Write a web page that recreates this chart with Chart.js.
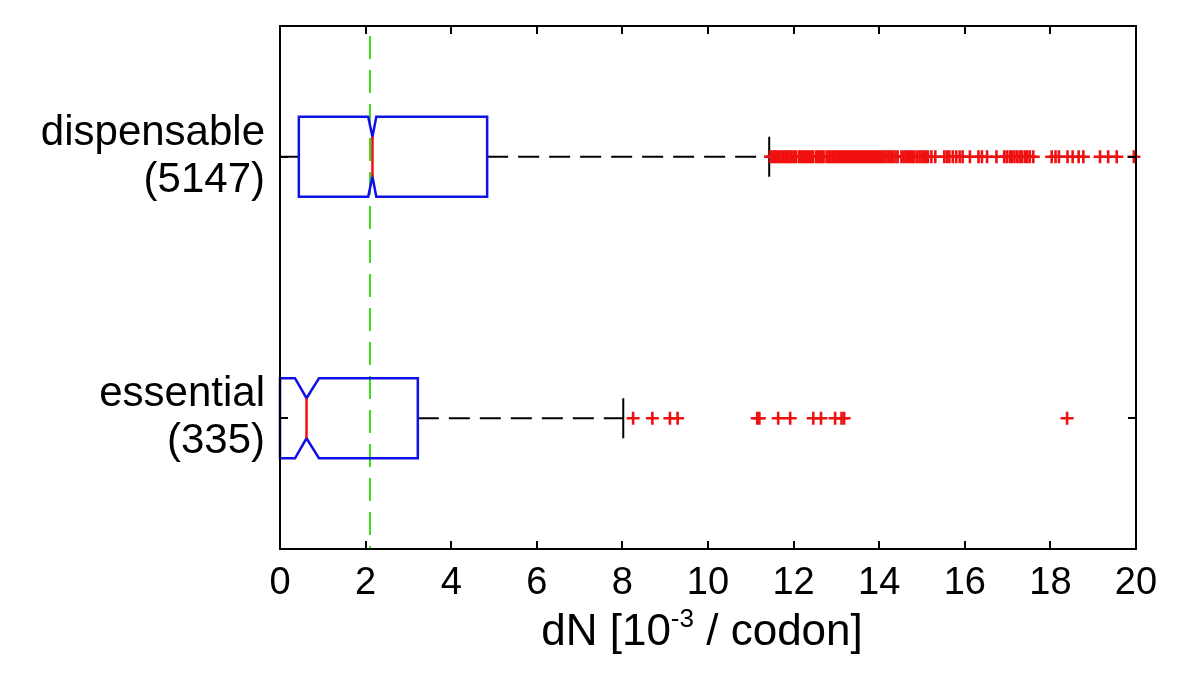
<!DOCTYPE html>
<html>
<head>
<meta charset="utf-8">
<title>dN: dispensable vs essential genes</title>
<script src="https://cdn.jsdelivr.net/npm/chart.js@4.4.1/dist/chart.umd.min.js"></script>
<style>
  html, body { margin: 0; padding: 0; background: #fff; }
  #wrap { width: 1200px; height: 677px; }
</style>
</head>
<body>
<div id="wrap"><canvas id="chart" width="1200" height="677"></canvas></div>
<script>
'use strict';

// groups, listed top to bottom
const groups = ['dispensable', 'essential'];
const groupCounts = [5147, 335];

// box statistics, dN in 10^-3 / codon
const lowerWhisker = [0.0, 0.0];
const q1 = [0.44, 0.0];
const notchLow = [2.06, 0.35];
const median = [2.16, 0.62];
const notchHigh = [2.25, 0.91];
const q3 = [4.84, 3.22];
const upperWhisker = [11.43, 8.02];

const outliersDispensable = [
  11.46, 11.50, 11.55, 11.58, 11.63, 11.67, 11.72, 11.76, 11.80, 11.85, 11.88, 11.93,
  11.97, 12.02, 12.06, 12.13, 12.17, 12.22, 12.27, 12.31, 12.36, 12.41, 12.45, 12.52,
  12.56, 12.61, 12.66, 12.70, 12.77, 12.82, 12.86, 12.91, 12.95, 13.00, 13.04, 13.09,
  13.13, 13.18, 13.22, 13.27, 13.32, 13.36, 13.41, 13.46, 13.50, 13.55, 13.60, 13.64,
  13.69, 13.74, 13.79, 13.83, 13.88, 13.93, 13.97, 14.02, 14.07, 14.12, 14.17, 14.22,
  14.27, 14.32, 14.38, 14.43, 14.52, 14.57, 14.62, 14.67, 14.72, 14.77, 14.82, 14.88,
  14.94, 14.99, 15.04, 15.09, 15.14, 15.22, 15.31, 15.52, 15.58, 15.64, 15.72, 15.80,
  15.88, 15.95, 16.12, 16.32, 16.40, 16.52, 16.74, 16.92, 16.98, 17.05, 17.10, 17.16,
  17.22, 17.28, 17.33, 17.40, 17.46, 17.52, 17.60, 18.03, 18.12, 18.20, 18.40, 18.52,
  18.66, 18.77, 19.16, 19.35, 19.55, 19.95
];
const outliersEssential = [
  8.25, 8.70, 9.11, 9.29, 11.15, 11.20, 11.64, 11.92, 12.46, 12.64, 12.97, 13.12, 13.18, 18.39
];

const referenceLine = 2.1;
const xTicks = [0, 2, 4, 6, 8, 10, 12, 14, 16, 18, 20];
const xTitleMain = 'dN [10';
const xTitleSup = '-3';
const xTitleEnd = ' / codon]';

const colors = { box: '#1010e8', median: '#f01010', whisker: '#000', outlier: '#f01010', ref: '#3ddc1c' };
const FONT = '"Liberation Sans", Arial, sans-serif';
const BOX_HALF = 0.153;   // half box height, in y units
const TICK_LEN = 8;

const yOf = i => groups.length - i;

const boxPlot = {
  id: 'boxPlot',
  beforeDatasetsDraw(chart) {
    const { ctx, chartArea: a, scales: { x, y } } = chart;
    ctx.save();

    // dashed reference line
    const gx = Math.round(x.getPixelForValue(referenceLine));
    ctx.strokeStyle = colors.ref;
    ctx.lineWidth = 2;
    ctx.setLineDash([23, 11]);
    ctx.lineDashOffset = -10;
    ctx.beginPath();
    ctx.moveTo(gx, a.top);
    ctx.lineTo(gx, a.bottom);
    ctx.stroke();

    groups.forEach((g, i) => {
      const px = v => x.getPixelForValue(v);
      const yc = y.getPixelForValue(yOf(i));
      const top = y.getPixelForValue(yOf(i) + BOX_HALF);
      const bot = y.getPixelForValue(yOf(i) - BOX_HALF);
      const nd = (bot - top) / 4;

      // whiskers
      ctx.strokeStyle = colors.whisker;
      ctx.lineWidth = 2;
      ctx.setLineDash([21, 10]);
      ctx.lineDashOffset = 0;
      ctx.beginPath();
      ctx.moveTo(px(q3[i]), yc); ctx.lineTo(px(upperWhisker[i]), yc);
      ctx.moveTo(px(q1[i]), yc); ctx.lineTo(px(lowerWhisker[i]), yc);
      ctx.stroke();
      ctx.setLineDash([]);
      ctx.beginPath();
      ctx.moveTo(px(upperWhisker[i]), yc - nd); ctx.lineTo(px(upperWhisker[i]), yc + nd);
      ctx.moveTo(px(lowerWhisker[i]), yc - nd); ctx.lineTo(px(lowerWhisker[i]), yc + nd);
      ctx.stroke();

      // notched box
      ctx.strokeStyle = colors.box;
      ctx.lineWidth = 2.5;
      ctx.lineJoin = 'miter';
      ctx.beginPath();
      ctx.moveTo(px(q1[i]), top);
      ctx.lineTo(px(notchLow[i]), top);
      ctx.lineTo(px(median[i]), top + nd);
      ctx.lineTo(px(notchHigh[i]), top);
      ctx.lineTo(px(q3[i]), top);
      ctx.lineTo(px(q3[i]), bot);
      ctx.lineTo(px(notchHigh[i]), bot);
      ctx.lineTo(px(median[i]), bot - nd);
      ctx.lineTo(px(notchLow[i]), bot);
      ctx.lineTo(px(q1[i]), bot);
      ctx.closePath();
      ctx.stroke();

      // median
      ctx.strokeStyle = colors.median;
      ctx.beginPath();
      ctx.moveTo(px(median[i]), top + nd);
      ctx.lineTo(px(median[i]), bot - nd);
      ctx.stroke();
    });
    ctx.restore();
  },
  afterDraw(chart) {
    const { ctx, chartArea: a, scales: { x, y } } = chart;
    ctx.save();
    ctx.strokeStyle = '#000';
    ctx.lineWidth = 2;
    ctx.setLineDash([]);
    ctx.strokeRect(a.left, a.top, a.right - a.left, a.bottom - a.top);

    // inward ticks, all four sides
    ctx.beginPath();
    xTicks.forEach(v => {
      const tx = Math.round(x.getPixelForValue(v));
      ctx.moveTo(tx, a.bottom); ctx.lineTo(tx, a.bottom - TICK_LEN);
      ctx.moveTo(tx, a.top); ctx.lineTo(tx, a.top + TICK_LEN);
    });
    groups.forEach((g, i) => {
      const ty = Math.round(y.getPixelForValue(yOf(i)));
      ctx.moveTo(a.left, ty); ctx.lineTo(a.left + TICK_LEN, ty);
      ctx.moveTo(a.right, ty); ctx.lineTo(a.right - TICK_LEN, ty);
    });
    ctx.stroke();

    // x title with superscript
    const big = '44px ' + FONT, small = '26px ' + FONT;
    ctx.fillStyle = '#000';
    ctx.textBaseline = 'alphabetic';
    ctx.textAlign = 'left';
    ctx.font = big;
    const w1 = ctx.measureText(xTitleMain).width;
    const w3 = ctx.measureText(xTitleEnd).width;
    ctx.font = small;
    const w2 = ctx.measureText(xTitleSup).width;
    const cx = (a.left + a.right) / 2 - 6;
    let tx = cx - (w1 + w2 + w3) / 2;
    const base = 645;
    ctx.font = big; ctx.fillText(xTitleMain, tx, base); tx += w1;
    ctx.font = small; ctx.fillText(xTitleSup, tx, base - 18); tx += w2;
    ctx.font = big; ctx.fillText(xTitleEnd, tx, base);
    ctx.restore();
  }
};

const outlierStyle = {
  pointStyle: 'cross',
  pointRadius: 6.5,
  pointHoverRadius: 6.5,
  borderColor: colors.outlier,
  backgroundColor: colors.outlier,
  pointBorderWidth: 2.6,
  showLine: false,
  clip: false
};

new Chart(document.getElementById('chart'), {
  type: 'scatter',
  data: {
    datasets: [
      Object.assign({ label: groups[0], data: outliersDispensable.map(v => ({ x: v, y: yOf(0) })) }, outlierStyle),
      Object.assign({ label: groups[1], data: outliersEssential.map(v => ({ x: v, y: yOf(1) })) }, outlierStyle)
    ]
  },
  options: {
    responsive: false,
    animation: false,
    events: [],
    layout: { padding: { top: 26, right: 64, left: 0, bottom: 0 } },
    plugins: { legend: { display: false }, tooltip: { enabled: false } },
    scales: {
      x: {
        type: 'linear',
        min: 0,
        max: 20,
        afterBuildTicks: s => { s.ticks = xTicks.map(v => ({ value: v })); },
        afterFit: s => { s.height = 128; s.paddingLeft = 0; s.paddingRight = 0; },
        grid: { display: false, drawTicks: false },
        border: { display: false },
        ticks: { color: '#000', padding: 12, maxRotation: 0, font: { family: FONT, size: 38 } }
      },
      y: {
        type: 'linear',
        min: 0.5,
        max: 2.5,
        afterBuildTicks: s => { s.ticks = groups.map((g, i) => ({ value: yOf(i) })); },
        afterFit: s => { s.width = 280; s.paddingTop = 0; s.paddingBottom = 0; },
        grid: { display: false, drawTicks: false },
        border: { display: false },
        ticks: {
          color: '#000',
          padding: 15,
          font: { family: FONT, size: 42, lineHeight: 1.12 },
          callback: v => {
            const i = groups.length - v;
            return [groups[i], '(' + groupCounts[i] + ')'];
          }
        }
      }
    }
  },
  plugins: [boxPlot]
});
</script>
</body>
</html>
